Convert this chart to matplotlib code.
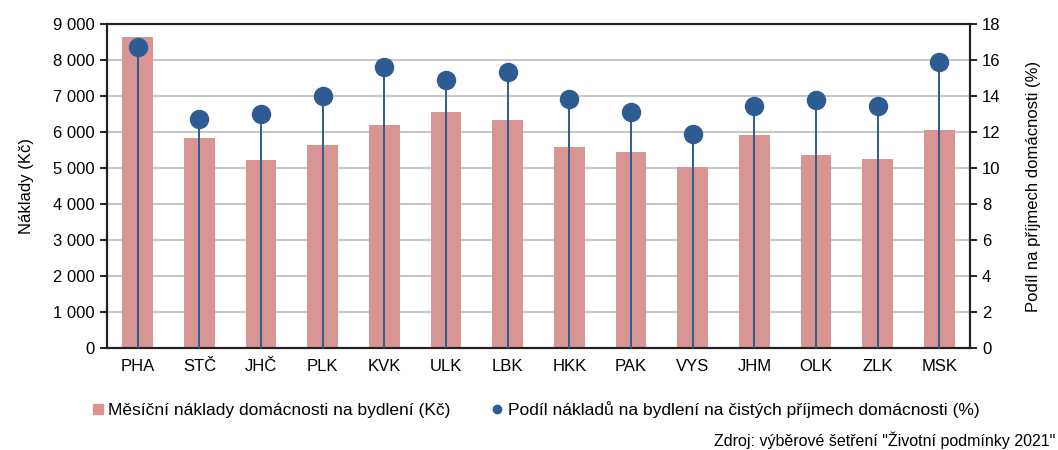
import matplotlib.pyplot as plt
import numpy as np
from matplotlib.lines import Line2D

plt.rcParams['font.family'] = ['Liberation Sans', 'DejaVu Sans']

# kraje
regions = ['PHA', 'STČ', 'JHČ', 'PLK', 'KVK', 'ULK', 'LBK', 'HKK', 'PAK', 'VYS',
           'JHM', 'OLK', 'ZLK', 'MSK']
# mesicni naklady na bydleni (Kc)
costs = [8640, 5830, 5220, 5640, 6190, 6560, 6330, 5580, 5440, 5030,
         5920, 5360, 5250, 6060]
# podil na cistych prijmech (%)
share = [16.7, 12.7, 13.0, 14.0, 15.6, 14.9, 15.35, 13.85, 13.1, 11.9,
         13.45, 13.75, 13.45, 15.9]

bar_col = '#d99594'
dot_col = '#2e5c92'

fig = plt.figure(figsize=(10.58, 4.5), dpi=100)
ax = fig.add_axes([0.101, 0.2267, 0.816, 0.72])
x = np.arange(len(regions))

ax.bar(x, costs, width=0.5, color=bar_col, zorder=2)
ax.set_xlim(-0.5, len(regions) - 0.5)
ax.set_ylim(0, 9000)
ax.set_yticks(np.arange(0, 9001, 1000))
ax.set_yticklabels([f'{v:,}'.replace(',', ' ') for v in range(0, 9001, 1000)])
ax.set_xticks(x)
ax.set_xticklabels(regions)
ax.grid(axis='y', color='#c8c8c8', linewidth=1.5, zorder=0)
ax.set_axisbelow(True)
ax.set_ylabel('Náklady (Kč)', fontsize=12, labelpad=14)
ax.tick_params(axis='y', direction='out', length=5, labelsize=12, width=1.2)
ax.tick_params(axis='x', length=0, labelsize=12, pad=8)
for s in ax.spines.values():
    s.set_linewidth(1.5)
    s.set_color('#222222')

ax2 = ax.twinx()
ax2.set_ylim(0, 18)
ax2.set_yticks(np.arange(0, 19, 2))
ax2.vlines(x, 0, share, color=dot_col, linewidth=1.4, zorder=3)
ax2.plot(x, share, 'o', color=dot_col, markersize=13, zorder=4)
ax2.set_ylabel('Podíl na příjmech domácnosti (%)', fontsize=12, labelpad=18)
ax2.tick_params(axis='y', direction='out', length=5, labelsize=12, width=1.2)
for s in ax2.spines.values():
    s.set_linewidth(1.5)
    s.set_color('#222222')

handles = [
    Line2D([], [], marker='s', linestyle='none', color=bar_col, markersize=7),
    Line2D([], [], marker='o', linestyle='none', color=dot_col, markersize=6),
]
labels = ['Měsíční náklady domácnosti na bydlení (Kč)',
          'Podíl nákladů na bydlení na čistých příjmech domácnosti (%)']
fig.legend(handles, labels, loc='center', bbox_to_anchor=(0.505, 0.09), ncol=2,
           frameon=False, fontsize=12.5, handletextpad=0.1, columnspacing=2.2,
           handlelength=1.0)

fig.text(0.997, 0.022, 'Zdroj: výběrové šetření "Životní podmínky 2021"',
         ha='right', va='center', fontsize=11.5)

fig.savefig('out.png', dpi=100)
